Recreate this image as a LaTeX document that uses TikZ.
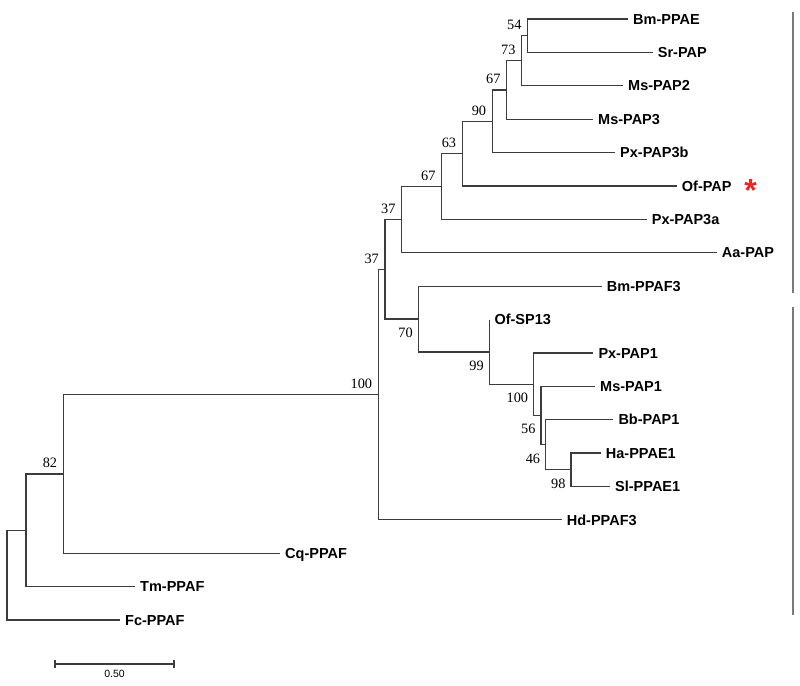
\documentclass[tikz,border=0pt]{standalone}
\usepackage{fontspec}
\setmainfont{Liberation Serif}
\setsansfont{Liberation Sans}
\definecolor{brc}{HTML}{3C3C3C}
\definecolor{barc}{HTML}{7A7A7A}
\definecolor{starc}{HTML}{F22222}
\begin{document}
\begin{tikzpicture}[x=1pt,y=-1pt,
  br/.style={draw=brc, line width=1.2pt},
  leaf/.style={anchor=west, inner xsep=5pt, inner ysep=0pt, font=\sffamily\bfseries\fontsize{14.5}{16}\selectfont, text height=10.4pt, text depth=0pt},
  bs/.style={inner sep=0pt, font=\fontsize{14.3}{16}\selectfont, text height=9.6pt, text depth=0pt},
  bsa/.style={bs, anchor=east, xshift=-6pt, yshift=10.8pt},
  bsb/.style={bs, anchor=east, xshift=-5.4pt, yshift=-13.5pt},
  sidebar/.style={draw=barc, line width=2pt}]
\useasboundingbox (0,0) rectangle (800,685);
% leaves
\node[leaf] (bmppae) at (628,19) {Bm-PPAE};
\node[leaf] (srpap) at (652.7,52.39) {Sr-PAP};
\node[leaf] (mspap2) at (623,85.78) {Ms-PAP2};
\node[leaf] (mspap3) at (593,119.17) {Ms-PAP3};
\node[leaf] (pxpap3b) at (615,152.56) {Px-PAP3b};
\node[leaf] (ofpap) at (676.7,185.95) {Of-PAP};
\node[leaf] (pxpap3a) at (646.7,219.34) {Px-PAP3a};
\node[leaf] (aapap) at (716.7,252.73) {Aa-PAP};
\node[leaf] (bmppaf3) at (601.7,286.12) {Bm-PPAF3};
\node[leaf] (ofsp13) at (489.3,319.51) {Of-SP13};
\node[leaf] (pxpap1) at (593.3,352.9) {Px-PAP1};
\node[leaf] (mspap1) at (595,386.29) {Ms-PAP1};
\node[leaf] (bbpap1) at (613.3,419.68) {Bb-PAP1};
\node[leaf] (happae1) at (600.7,453.07) {Ha-PPAE1};
\node[leaf] (slppae1) at (610,486.46) {Sl-PPAE1};
\node[leaf] (hdppaf3) at (561.7,519.85) {Hd-PPAF3};
\node[leaf] (cqppaf) at (280,553.24) {Cq-PPAF};
\node[leaf] (tmppaf) at (135,586.63) {Tm-PPAF};
\node[leaf] (fcppaf) at (120,620.02) {Fc-PPAF};
% internal nodes
\coordinate (n54) at (527.7,35.7);
\coordinate (n73) at (521.7,60.7);
\coordinate (n67a) at (506.7,89.9);
\coordinate (n90) at (492.3,121.2);
\coordinate (n63) at (462.3,153.6);
\coordinate (n67b) at (441.7,186.5);
\coordinate (n37a) at (401.7,219.6);
\coordinate (n98) at (571,469.8);
\coordinate (n46) at (545.7,444.7);
\coordinate (n56) at (541,415.5);
\coordinate (n100b) at (533.7,384.2);
\coordinate (n99) at (489.3,351.9);
\coordinate (n70) at (418.3,319);
\coordinate (n37b) at (385,269.3);
\coordinate (n100) at (378.3,394.6);
\coordinate (n82) at (63.3,473.9);
\coordinate (nA) at (26,530.3);
\coordinate (root) at (7,575.2);
% branches
\draw[br] (n54) |- (bmppae.west);
\draw[br] (n54) |- (srpap.west);
\draw[br] (n73) |- (n54);
\draw[br] (n73) |- (mspap2.west);
\draw[br] (n67a) |- (n73);
\draw[br] (n67a) |- (mspap3.west);
\draw[br] (n90) |- (n67a);
\draw[br] (n90) |- (pxpap3b.west);
\draw[br] (n63) |- (n90);
\draw[br] (n63) |- (ofpap.west);
\draw[br] (n67b) |- (n63);
\draw[br] (n67b) |- (pxpap3a.west);
\draw[br] (n37a) |- (n67b);
\draw[br] (n37a) |- (aapap.west);
\draw[br] (n98) |- (happae1.west);
\draw[br] (n98) |- (slppae1.west);
\draw[br] (n46) |- (bbpap1.west);
\draw[br] (n46) |- (n98);
\draw[br] (n56) |- (mspap1.west);
\draw[br] (n56) |- (n46);
\draw[br] (n100b) |- (pxpap1.west);
\draw[br] (n100b) |- (n56);
\draw[br] (n99) |- (ofsp13.west);
\draw[br] (n99) |- (n100b);
\draw[br] (n70) |- (bmppaf3.west);
\draw[br] (n70) |- (n99);
\draw[br] (n37b) |- (n37a);
\draw[br] (n37b) |- (n70);
\draw[br] (n100) |- (n37b);
\draw[br] (n100) |- (hdppaf3.west);
\draw[br] (n82) |- (n100);
\draw[br] (n82) |- (cqppaf.west);
\draw[br] (nA) |- (n82);
\draw[br] (nA) |- (tmppaf.west);
\draw[br] (root) |- (nA);
\draw[br] (root) |- (fcppaf.west);
% bootstrap values
\node[bsa] (b54) at (n54) {54};
\node[bsa] (b73) at (n73) {73};
\node[bsa] (b67a) at (n67a) {67};
\node[bsa] (b90) at (n90) {90};
\node[bsa] (b63) at (n63) {63};
\node[bsa] (b67b) at (n67b) {67};
\node[bsa] (b37a) at (n37a) {37};
\node[bsa] (b37b) at (n37b) {37};
\node[bsa] (b100) at (n100) {100};
\node[bsa] (b82) at (n82) {82};
\node[bsb] (b70) at (n70) {70};
\node[bsb] (b99) at (n99) {99};
\node[bsb] (b100b) at (n100b) {100};
\node[bsb] (b56) at (n56) {56};
\node[bsb] (b46) at (n46) {46};
\node[bsb] (b98) at (n98) {98};
% star
\node[text=starc, font=\sffamily\bfseries\fontsize{32}{32}\selectfont, inner sep=0pt, anchor=base] (star) at (750.7,201.5) {*};
% side bars
\draw[sidebar] (792.7,12) -- (792.7,293.3);
\draw[sidebar] (792.7,307.3) -- (792.7,615);
% scale bar
\coordinate (sbl) at (55,664);
\coordinate (sbr) at (174,664);
\draw[br] (sbl) -- (sbr);
\draw[br] ([yshift=4pt]sbl) -- ([yshift=-4pt]sbl);
\draw[br] ([yshift=4pt]sbr) -- ([yshift=-4pt]sbr);
\node[font=\sffamily\fontsize{10.5}{12}\selectfont, inner sep=0pt] (sbt) at (114.5,674) {0.50};
\end{tikzpicture}
\end{document}
